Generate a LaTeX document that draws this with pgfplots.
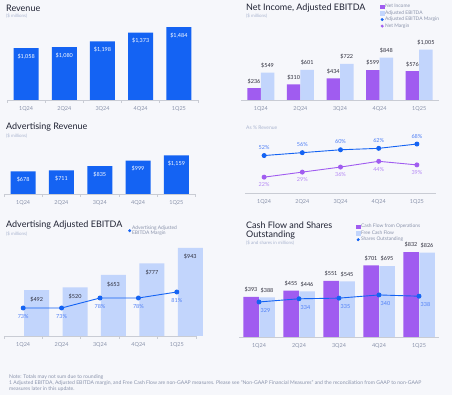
\documentclass[border=0pt]{standalone}
\usepackage{fontspec}
\setmainfont{Lato}
\usepackage{pgfplots}
\pgfplotsset{compat=1.18}
\definecolor{bg}{HTML}{F6F7FB}
\definecolor{blueA}{HTML}{1463F3}
\definecolor{lblue}{HTML}{C2D5FC}
\definecolor{purp}{HTML}{A05CF0}
\definecolor{titlec}{HTML}{1F2233}
\definecolor{tickc}{HTML}{8A93AB}
\definecolor{subc}{HTML}{A9B4CF}
\definecolor{darkl}{HTML}{2E2E3C}
\definecolor{axisc}{HTML}{C9CCD4}
\definecolor{bluel}{HTML}{4D7EF6}
\definecolor{purpl}{HTML}{B487F4}
\newcommand{\ttl}{\fontsize{9}{10}\selectfont}
\newcommand{\sub}{\fontsize{4.5}{5}\selectfont}
\newcommand{\legf}{\fontsize{4.9}{5.3}\selectfont}
\newcommand{\lbl}{\fontsize{5.5}{6}\selectfont}
\pgfplotsset{
  panel/.style={scale only axis, anchor=south west, clip=false,
    xmin=-0.5, xmax=4.5, ymin=0,
    axis x line*=bottom, axis y line=none,
    x axis line style={draw=axisc, line width=0.6pt, -},
    xtick={0,1,2,3,4}, xticklabels={1Q24,2Q24,3Q24,4Q24,1Q25},
    major tick length=0pt,
    xticklabel style={font=\lbl, text=tickc, yshift=-3pt},
    /pgf/number format/fixed, /pgf/number format/precision=0,
    /pgf/number format/1000 sep={,}, /pgf/number format/assume math mode=true},
  minort/.style={minor xtick={-0.5,0.5,1.5,2.5,3.5,4.5}, minor tick length=3pt, tick align=outside, minor tick style={draw=axisc, line width=0.6pt}},
  overl/.style={scale only axis, anchor=south west, clip=false, xmin=-0.5, xmax=4.5, hide axis,
    /pgf/number format/fixed, /pgf/number format/precision=0, /pgf/number format/assume math mode=true},
  dollar/.style={nodes near coords={\$\pgfmathprintnumber{\pgfplotspointmeta}}},
  legs/.style={legend style={at={#1}, anchor=north west, draw=none, fill=none, font=\legf, text=tickc, inner sep=0pt, row sep=-0.4pt, nodes={inner sep=0.9pt, align=left}}, legend cell align=left},
}
\begin{document}
\begin{tikzpicture}[x=1pt,y=1pt]
\path[use as bounding box] (0,0) rectangle (452,395);
\fill[bg] (0,0) rectangle (452,395);

% ---------- Revenue ----------
\node[anchor=west, font=\ttl, text=titlec, inner sep=0] at (6,387) {Revenue};
\node[anchor=west, font=\sub, text=subc, inner sep=0] at (6,379) {(\$ millions)};
\begin{axis}[panel, minort, at={(7pt,295pt)}, width=191pt, height=80pt, ymax=1632,
  ybar, bar width=25pt, dollar,
  every node near coord/.append style={font=\lbl, text=white, anchor=north, yshift=-2pt}]
\addplot[fill=blueA, draw=none] coordinates {(0,1058)(1,1080)(2,1198)(3,1373)(4,1484)};
\end{axis}

% ---------- Net Income, Adjusted EBITDA ----------
\node[anchor=west, font=\ttl, text=titlec, inner sep=0] at (246,387) {Net Income, Adjusted EBITDA};
\node[anchor=west, font=\sub, text=subc, inner sep=0] at (246,379) {(\$ millions)};
\begin{axis}[panel, at={(241pt,295pt)}, width=198pt, height=80pt, ymax=1600,
  ybar=0pt, bar width=13.5pt, dollar,
  every node near coord/.append style={font=\lbl, text=darkl, yshift=1pt},
  legs={(0.702,1.2125)}]
\addplot[fill=purp, draw=none, bar shift=-6.75pt, forget plot] coordinates {(0,236)(1,310)(2,434)(3,599)(4,576)};
\addplot[fill=lblue, draw=none, bar shift=6.75pt, forget plot] coordinates {(0,549)(1,601)(2,722)(3,848)(4,1005)};
\addlegendimage{legend image code/.code={\fill[purp] (0pt,-1.8pt) rectangle (3.6pt,1.8pt);}}
\addlegendentry{Net Income}
\addlegendimage{legend image code/.code={\fill[lblue] (0pt,-1.8pt) rectangle (3.6pt,1.8pt);}}
\addlegendentry{Adjusted EBITDA}
\addlegendimage{legend image code/.code={\fill[blueA] (1.8pt,0pt) circle (1.3pt);}}
\addlegendentry{Adjusted EBITDA Margin}
\addlegendimage{legend image code/.code={\fill[purp] (1.8pt,0pt) circle (1.3pt);}}
\addlegendentry{Net Margin}
\end{axis}

% ---------- As % Revenue ----------
\node[anchor=west, font=\fontsize{5}{6}\selectfont, text=subc, inner sep=0] at (246,267) {As \% Revenue};
\begin{axis}[panel, at={(245pt,202pt)}, width=191pt, height=60pt, ymax=83.3]
\addplot[blueA, line width=0.9pt, mark=*, mark size=2pt,
  nodes near coords={\pgfmathprintnumber{\pgfplotspointmeta}\%},
  every node near coord/.append style={font=\lbl, text=bluel, anchor=south, yshift=2pt}]
  coordinates {(0,52)(1,56)(2,60)(3,62)(4,68)};
\addplot[purp, line width=0.9pt, mark=*, mark size=2pt,
  nodes near coords={\pgfmathprintnumber{\pgfplotspointmeta}\%},
  every node near coord/.append style={font=\lbl, text=purpl, anchor=north, yshift=-2pt}]
  coordinates {(0,22)(1,29)(2,36)(3,44)(4,39)};
\end{axis}

% ---------- Advertising Revenue ----------
\node[anchor=west, font=\ttl, text=titlec, inner sep=0] at (6,268) {Advertising Revenue};
\node[anchor=west, font=\sub, text=subc, inner sep=0] at (6,259) {(\$ millions)};
\begin{axis}[panel, minort, at={(4pt,201pt)}, width=191.5pt, height=60pt, ymax=1800,
  ybar, bar width=25pt, dollar,
  every node near coord/.append style={font=\lbl, text=white, anchor=north, yshift=-2pt}]
\addplot[fill=blueA, draw=none] coordinates {(0,678)(1,711)(2,835)(3,999)(4,1159)};
\end{axis}

% ---------- Advertising Adjusted EBITDA ----------
\node[anchor=west, font=\ttl, text=titlec, inner sep=0] at (6,170) {Advertising Adjusted EBITDA};
\node[anchor=west, font=\sub, text=subc, inner sep=0] at (6,161) {(\$ millions)};
\begin{axis}[panel, minort, at={(4pt,59pt)}, width=192pt, height=95pt, ymax=1017,
  ybar, bar width=25pt, dollar,
  every node near coord/.append style={font=\lbl, text=darkl, anchor=north, yshift=-3pt},
  legs={(0.646,1.175)}]
\addplot[fill=lblue, draw=none, forget plot] coordinates {(0,492)(1,520)(2,653)(3,777)(4,943)};
\addlegendimage{legend image code/.code={\fill[blueA] (1.8pt,0pt) circle (1.3pt);}}
\addlegendentry{Advertising Adjusted\\EBITDA Margin}
\end{axis}
\begin{axis}[overl, at={(4pt,59pt)}, width=192pt, height=95pt, ymin=59, ymax=106.5]
\addplot[blueA, line width=0.9pt, mark=*, mark size=2pt,
  nodes near coords={\pgfmathprintnumber{\pgfplotspointmeta}\%},
  every node near coord/.append style={font=\lbl, text=bluel, anchor=north, yshift=-3pt}]
  coordinates {(0,73)(1,73)(2,78)(3,78)(4,81)};
\end{axis}

% ---------- Cash Flow and Shares Outstanding ----------
\node[anchor=west, font=\ttl, text=titlec, inner sep=0] at (246,170) {Cash Flow and Shares};
\node[anchor=west, font=\ttl, text=titlec, inner sep=0] at (246,160) {Outstanding};
\node[anchor=west, font=\sub, text=subc, inner sep=0] at (246,152) {(\$ and shares in millions)};
\begin{axis}[panel, at={(239pt,58pt)}, width=200pt, height=95pt, ymax=931,
  ybar=0pt, bar width=15.5pt, dollar,
  every node near coord/.append style={font=\lbl, text=darkl, yshift=1pt},
  legs={(0.585,1.2)}]
\addplot[fill=purp, draw=none, bar shift=-8pt, forget plot] coordinates {(0,393)(1,455)(2,551)(3,701)(4,832)};
\addplot[fill=lblue, draw=none, bar shift=8pt, forget plot] coordinates {(0,388)(1,446)(2,545)(3,695)(4,826)};
\addlegendimage{legend image code/.code={\fill[purp] (0pt,-1.8pt) rectangle (3.6pt,1.8pt);}}
\addlegendentry{Cash Flow from Operations}
\addlegendimage{legend image code/.code={\fill[lblue] (0pt,-1.8pt) rectangle (3.6pt,1.8pt);}}
\addlegendentry{Free Cash Flow}
\addlegendimage{legend image code/.code={\fill[blueA] (1.8pt,0pt) circle (1.3pt);}}
\addlegendentry{Shares Outstanding}
\end{axis}
\begin{axis}[overl, at={(239pt,58pt)}, width=200pt, height=95pt, ymin=274.3, ymax=422.7]
\addplot[blueA, line width=0.9pt, mark=*, mark size=2pt,
  nodes near coords={\pgfmathprintnumber{\pgfplotspointmeta}},
  every node near coord/.append style={font=\lbl, text=bluel, anchor=north, yshift=-3pt, xshift=6.5pt}]
  coordinates {(0,329)(1,334)(2,335)(3,340)(4,338)};
\end{axis}

% ---------- Footnote ----------
\node[anchor=west, font=\fontsize{5.1}{5.5}\selectfont, text=tickc, inner sep=0] at (9,18) {Note: Totals may not sum due to rounding};
\node[anchor=west, font=\fontsize{5.1}{5.5}\selectfont, text=tickc, inner sep=0] at (9,12) {1 Adjusted EBITDA, Adjusted EBITDA margin, and Free Cash Flow are non-GAAP measures. Please see ``Non-GAAP Financial Measures'' and the reconciliation from GAAP to non-GAAP};
\node[anchor=west, font=\fontsize{5.1}{5.5}\selectfont, text=tickc, inner sep=0] at (9,6) {measures later in this update.};
\end{tikzpicture}
\end{document}
